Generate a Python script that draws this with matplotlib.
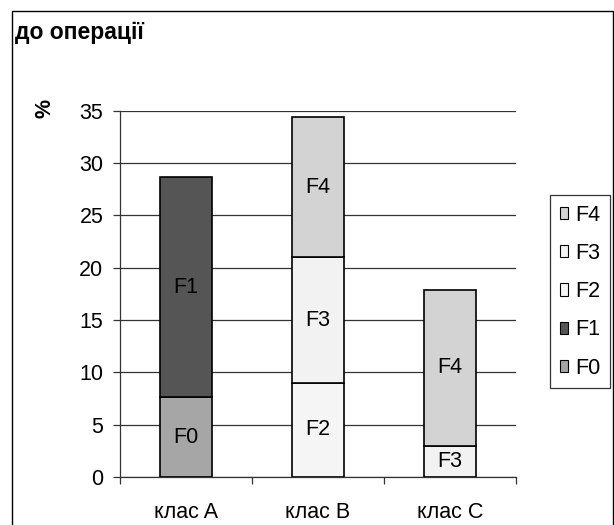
import matplotlib
matplotlib.use("Agg")
import matplotlib.pyplot as plt
from matplotlib.patches import Rectangle, Patch
import numpy as np

plt.rcParams['font.family'] = ['Liberation Sans', 'DejaVu Sans']

categories = ['клас A', 'клас B', 'клас C']
series = ['F0', 'F1', 'F2', 'F3', 'F4']
values = {
    'F0': [7.6, 0.0, 0.0],
    'F1': [21.1, 0.0, 0.0],
    'F2': [0.0, 9.0, 0.0],
    'F3': [0.0, 12.0, 3.0],
    'F4': [0.0, 13.4, 14.9],
}
colors = {
    'F0': '#A6A6A6',
    'F1': '#555555',
    'F2': '#F5F5F5',
    'F3': '#F2F2F2',
    'F4': '#D3D3D3',
}
yticks = [0, 5, 10, 15, 20, 25, 30, 35]
title = 'до операції'
ylabel = '%'

FS = 15.5
W, H = 614, 525
fig = plt.figure(figsize=(W / 100, H / 100), dpi=100)

# outer chart frame (open at the bottom edge)
fig.patches.append(Rectangle((12 / W, -0.01), (613 - 12) / W, 1 - 11 / H + 0.01,
                             transform=fig.transFigure, fill=False,
                             edgecolor='black', linewidth=1.0))

ax = fig.add_axes([120 / W, 1 - 477 / H, (516 - 120) / W, (477 - 110.7) / H])

x = np.arange(len(categories))
bottom = np.zeros(len(categories))
for s in series:
    v = np.array(values[s])
    mask = v > 0
    ax.bar(x[mask], v[mask], width=0.4, bottom=bottom[mask], color=colors[s],
           edgecolor='black', linewidth=1.2, zorder=3)
    for xi, vi, bi in zip(x[mask], v[mask], bottom[mask]):
        ax.text(xi, bi + vi / 2, s, ha='center', va='center', fontsize=FS,
                color='black', zorder=4)
    bottom += v

ax.set_xlim(-0.5, len(categories) - 0.5)
ax.set_ylim(0, 35)
ax.set_yticks(yticks)
ax.yaxis.grid(True, color='#333333', linewidth=0.9, zorder=0)
ax.set_axisbelow(True)

# category separators as ticks, names centred between them
ax.set_xticks(np.arange(-0.5, len(categories), 1.0))
ax.set_xticklabels([])
ax.set_xticks(x, minor=True)
ax.set_xticklabels(categories, minor=True, fontsize=FS)
ax.tick_params(axis='x', which='major', direction='out', length=5, width=0.9,
               color='#333333')
ax.tick_params(axis='x', which='minor', length=0, pad=18)
ax.tick_params(axis='y', direction='out', length=5, width=0.9, labelsize=FS,
               color='#333333', pad=7)

for side in ('top', 'right'):
    ax.spines[side].set_visible(False)
for side in ('left', 'bottom'):
    ax.spines[side].set_color('#333333')
    ax.spines[side].set_linewidth(0.9)

fig.text(15 / W, 1 - 33 / H, title, fontsize=16.5, fontweight='bold',
         ha='left', va='center')
fig.text(45 / W, 1 - 108 / H, ylabel, fontsize=FS, fontweight='bold',
         rotation=90, ha='center', va='center')

handles = [Patch(facecolor=colors[s], edgecolor='black', linewidth=0.8, label=s)
           for s in reversed(series)]
leg = fig.legend(handles=handles, loc='upper left',
                 bbox_to_anchor=(550 / W, 1 - 195 / H), fontsize=FS,
                 frameon=True, fancybox=False, framealpha=1,
                 edgecolor='#333333', handlelength=0.4, handleheight=0.5,
                 handletextpad=0.3, labelspacing=0.8, borderpad=0.45,
                 borderaxespad=0)
leg.get_frame().set_linewidth(0.9)

fig.savefig('out.png', dpi=100)
